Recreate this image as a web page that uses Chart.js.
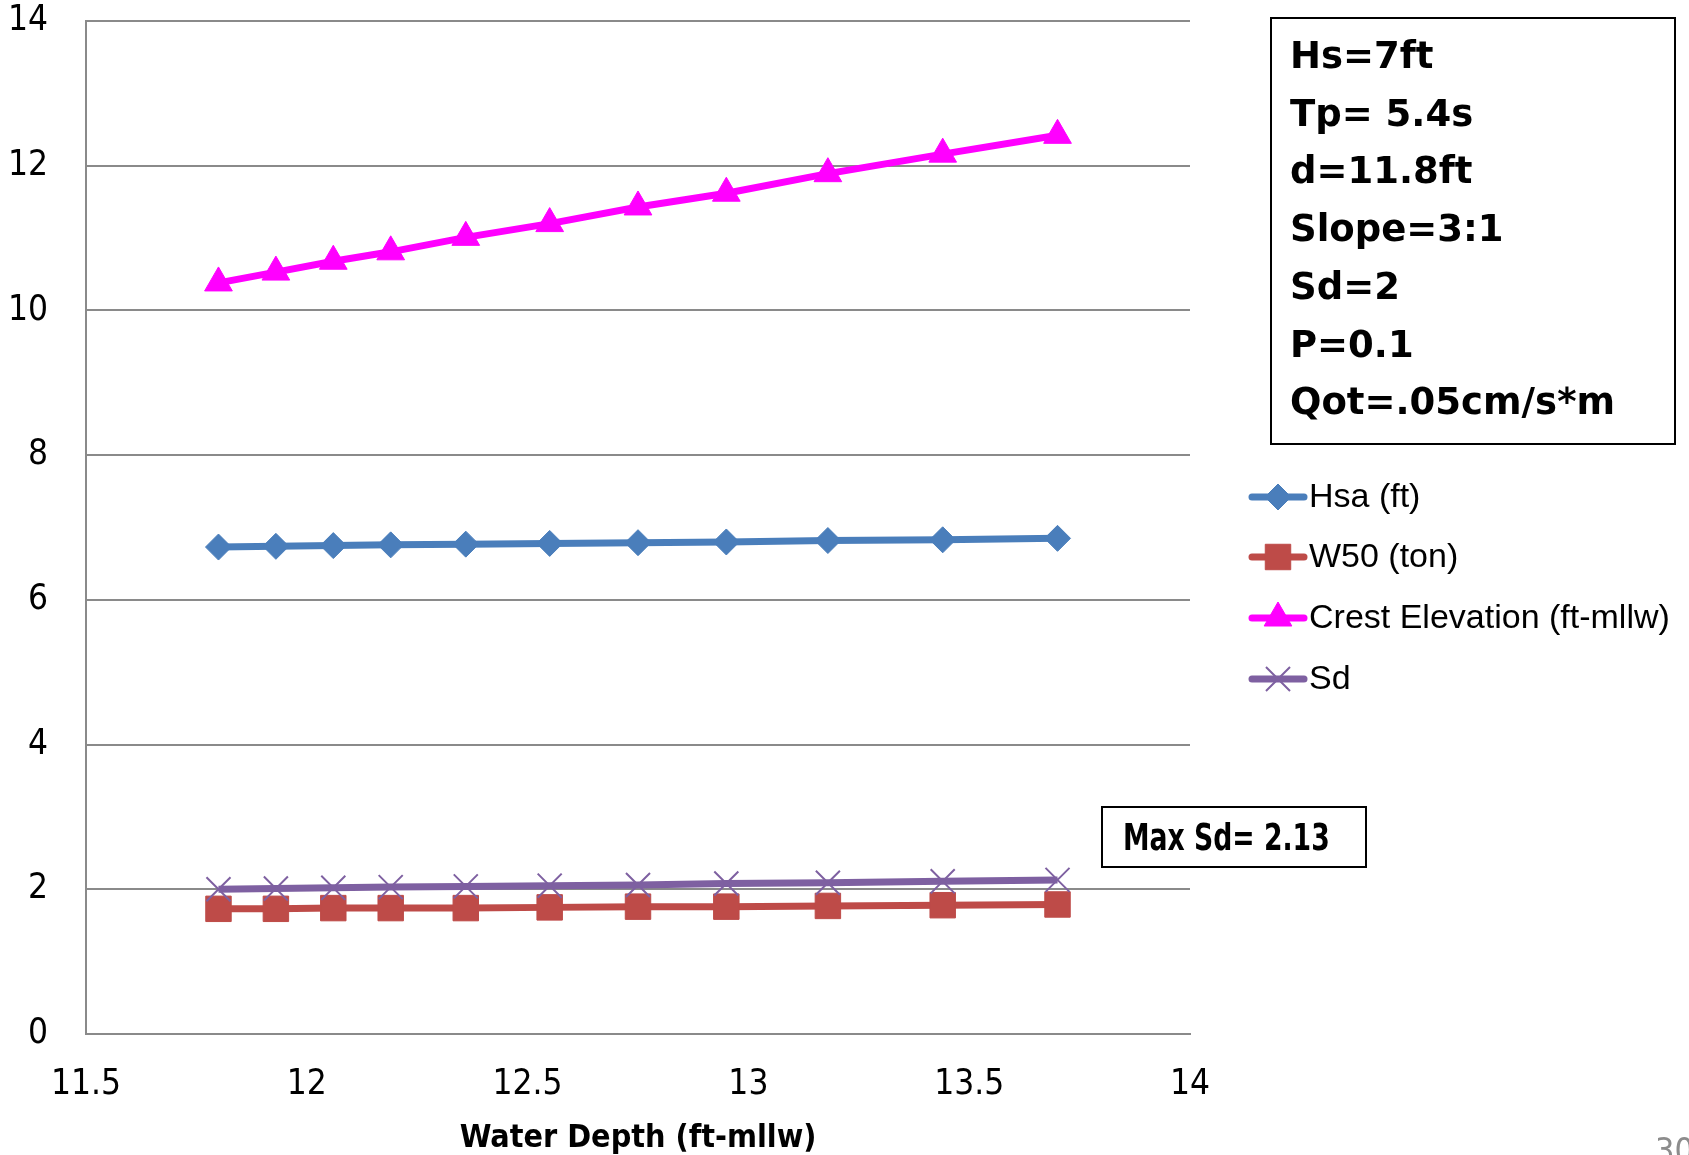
<!DOCTYPE html>
<html><head><meta charset="utf-8">
<script src="https://cdn.jsdelivr.net/npm/chart.js@4.4.1/dist/chart.umd.min.js"></script>
<style>html,body{margin:0;padding:0;background:#fff;overflow:hidden}canvas{display:block}</style>
</head><body>
<canvas id="c" width="1689" height="1155"></canvas>
<script>
// ---- data ----
const waterDepth = [11.80, 11.93, 12.06, 12.19, 12.36, 12.55, 12.75, 12.95, 13.18, 13.44, 13.70];
const hsa   = [6.73, 6.74, 6.75, 6.76, 6.77, 6.78, 6.79, 6.80, 6.82, 6.83, 6.85];
const w50   = [1.73, 1.73, 1.74, 1.74, 1.74, 1.75, 1.76, 1.76, 1.77, 1.78, 1.79];
const crest = [10.38, 10.53, 10.68, 10.81, 11.01, 11.20, 11.43, 11.62, 11.89, 12.16, 12.42];
const sd    = [2.00, 2.01, 2.02, 2.03, 2.04, 2.05, 2.06, 2.08, 2.09, 2.11, 2.13];
const xTicks = [11.5, 12, 12.5, 13, 13.5, 14];
const yTicks = [0, 2, 4, 6, 8, 10, 12, 14];
const seriesNames = ['Hsa (ft)', 'W50 (ton)', 'Crest Elevation (ft-mllw)', 'Sd'];
const infoLines = ['Hs=7ft', 'Tp= 5.4s', 'd=11.8ft', 'Slope=3:1', 'Sd=2', 'P=0.1', 'Qot=.05cm/s*m'];
const maxSdLabel = 'Max Sd= 2.13';
const xTitle = 'Water Depth (ft-mllw)';
const pageNumber = '30';

const NARROW = '"Liberation Sans Narrow", "DejaVu Sans Condensed", sans-serif';
const pts = arr => waterDepth.map((x, i) => ({x, y: arr[i]}));

const styles = [
  {color: '#4a7ebb', pointStyle: 'rectRot', radius: 13, pbw: 1},
  {color: '#be4b48', pointStyle: 'rect', radius: 18, pbw: 1},
  {color: '#ff00ff', pointStyle: 'triangle', radius: 16, pbw: 1},
  {color: '#7e60a1', pointStyle: 'crossRot', radius: 17, pbw: 2}
];
const seriesData = [hsa, w50, crest, sd];

const datasets = seriesData.map((arr, i) => ({
  label: seriesNames[i],
  data: pts(arr),
  borderColor: styles[i].color,
  backgroundColor: styles[i].color,
  borderWidth: 7,
  pointStyle: styles[i].pointStyle,
  pointRadius: styles[i].radius,
  pointHoverRadius: styles[i].radius,
  pointBorderWidth: styles[i].pbw,
  pointBorderColor: styles[i].color,
  pointBackgroundColor: styles[i].color,
  tension: 0,
  order: 4 - i
}));

const overlay = {
  id: 'overlay',
  afterDraw(chart) {
    const ctx = chart.ctx;
    ctx.save();
    // legend
    const legendY = [497, 557, 618, 679];
    chart.data.datasets.forEach((ds, i) => {
      const y = legendY[i];
      ctx.strokeStyle = ds.borderColor;
      ctx.fillStyle = ds.backgroundColor;
      ctx.lineWidth = 7;
      ctx.lineCap = 'round';
      ctx.beginPath(); ctx.moveTo(1252, y); ctx.lineTo(1304, y); ctx.stroke();
      ctx.lineCap = 'butt';
      ctx.lineWidth = ds.pointBorderWidth;
      Chart.helpers.drawPoint(ctx, {
        pointStyle: ds.pointStyle, radius: ds.pointRadius, rotation: 0,
        borderWidth: ds.pointBorderWidth
      }, 1278, y);
      ctx.fillStyle = '#000';
      ctx.font = '34px "Liberation Sans", sans-serif';
      ctx.textBaseline = 'middle';
      ctx.textAlign = 'left';
      ctx.fillText(ds.label, 1309, y + 1);
    });
    // info box
    ctx.strokeStyle = '#000'; ctx.lineWidth = 2;
    ctx.strokeRect(1271, 18, 404, 426);
    ctx.fillStyle = '#000';
    ctx.font = 'bold 37px "DejaVu Sans", sans-serif';
    ctx.textBaseline = 'middle';
    const infoY = [57, 115, 172, 230, 288, 346, 403];
    infoLines.forEach((t, i) => ctx.fillText(t, 1290, infoY[i] + 1));
    // max Sd box
    ctx.strokeRect(1102, 807, 264, 60);
    ctx.save();
    ctx.translate(1123, 839);
    ctx.scale(0.78, 1);
    ctx.font = 'bold 38px ' + NARROW;
    ctx.fillText(maxSdLabel, 0, 1);
    ctx.restore();
    // page number
    ctx.fillStyle = '#8c8c8c';
    ctx.font = '34px ' + NARROW;
    ctx.textBaseline = 'top';
    ctx.fillText(pageNumber, 1655, 1136);
    ctx.restore();
  }
};

new Chart(document.getElementById('c'), {
  type: 'line',
  data: {datasets},
  options: {
    responsive: false,
    animation: false,
    devicePixelRatio: 1,
    layout: {padding: {left: 0, top: 21, right: 499, bottom: 0}},
    plugins: {legend: {display: false}, tooltip: {enabled: false}},
    scales: {
      x: {
        type: 'linear', min: 11.5, max: 14,
        afterBuildTicks: s => { s.ticks = xTicks.map(v => ({value: v})); },
        afterFit: s => { s.height = 121; },
        grid: {display: false, drawTicks: false},
        border: {display: true, color: '#8a8a8a', width: 2},
        ticks: {color: '#000', padding: 33, callback: v => String(v),
                font: {family: NARROW, size: 35, lineHeight: 1}},
        title: {display: true, text: xTitle, color: '#000', padding: {top: 0, bottom: 0},
                font: {family: NARROW, size: 32, weight: 'bold', lineHeight: 1}}
      },
      y: {
        type: 'linear', min: 0, max: 14,
        afterBuildTicks: s => { s.ticks = yTicks.map(v => ({value: v})); },
        afterFit: s => { s.width = 86; s.paddingTop = 0; s.paddingBottom = 0; },
        grid: {color: '#8a8a8a', lineWidth: 2, drawTicks: false},
        border: {display: true, color: '#8a8a8a', width: 2},
        ticks: {color: '#000', padding: 38, callback: v => String(v),
                font: {family: NARROW, size: 35, lineHeight: 1}}
      }
    }
  },
  plugins: [overlay]
});
</script>
</body></html>
